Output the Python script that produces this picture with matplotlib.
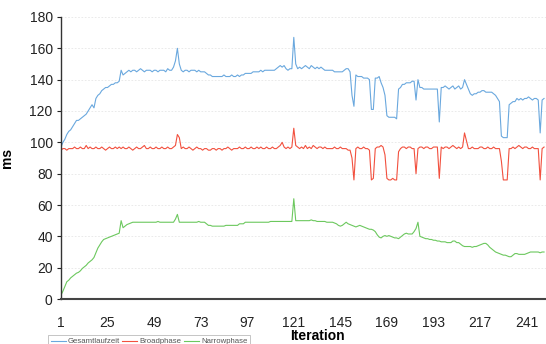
import numpy as np
import matplotlib
matplotlib.use("Agg")
import matplotlib.pyplot as plt

plt.rcParams['font.family'] = ['Liberation Sans', 'DejaVu Sans']

series_names = ["Gesamtlaufzeit", "Broadphase", "Narrowphase"]
series_colors = ["#6aa8de", "#f2503e", "#6cc85e"]

gesamtlaufzeit = [
    97, 100, 102, 105, 107, 108, 110, 112, 114, 114,
    115, 116, 117, 118, 120, 122, 124, 122, 128, 130,
    131, 133, 134, 135, 135, 136, 137, 137, 138, 138,
    139, 146, 143, 144, 145, 146, 145, 146, 146, 145,
    146, 147, 146, 145, 146, 146, 146, 145, 146, 146,
    145, 146, 146, 146, 145, 147, 146, 146, 148, 152,
    160, 150, 146, 145, 146, 146, 145, 146, 146, 146,
    145, 146, 145, 145, 145, 144, 143, 143, 142, 142,
    142, 142, 142, 142, 143, 142, 142, 142, 143, 142,
    142, 143, 142, 143, 143, 144, 144, 144, 144, 145,
    145, 145, 145, 146, 145, 146, 146, 146, 146, 146,
    146, 147, 148, 149, 148, 149, 147, 146, 147, 147,
    167, 150, 147, 148, 147, 148, 149, 148, 147, 149,
    148, 147, 148, 147, 148, 147, 146, 146, 146, 146,
    146, 145, 145, 145, 145, 145, 146, 147, 147, 145,
    130, 123, 143, 142, 142, 142, 141, 141, 141, 140,
    121, 121, 141, 141, 142, 138, 135, 130, 117, 116,
    116, 116, 116, 115, 134, 135, 137, 137, 138, 138,
    138, 139, 139, 127, 140, 135, 135, 134, 134, 134,
    134, 134, 134, 134, 134, 113, 135, 135, 136, 135,
    134, 135, 136, 134, 135, 136, 134, 135, 140, 137,
    134, 131, 130, 131, 131, 132, 132, 133, 133, 132,
    132, 132, 132, 131, 130, 128, 126, 104, 103, 103,
    103, 124, 125, 126, 126, 128, 127, 128, 127, 128,
    128, 129, 128, 127, 128, 128, 127, 106, 127, 128,
]

broadphase = [
    95, 96, 96, 95, 96, 96, 96, 97, 96, 96,
    97, 96, 96, 98, 96, 97, 96, 96, 97, 96,
    96, 97, 96, 95, 96, 97, 96, 96, 97, 96,
    97, 96, 97, 96, 96, 97, 96, 95, 96, 97,
    96, 96, 97, 98, 96, 96, 97, 96, 96, 97,
    96, 96, 97, 96, 96, 97, 96, 96, 97, 98,
    105, 103, 96, 97, 96, 96, 97, 96, 95, 96,
    97, 96, 96, 95, 96, 96, 95, 95, 96, 96,
    95, 96, 96, 95, 96, 96, 97, 96, 95, 96,
    96, 96, 97, 96, 96, 97, 96, 96, 97, 96,
    96, 97, 96, 97, 96, 96, 97, 96, 96, 97,
    96, 96, 97, 98, 100, 97, 96, 97, 96, 97,
    109, 98, 97, 96, 97, 96, 98, 96, 97, 96,
    98, 97, 96, 97, 97, 96, 97, 96, 96, 96,
    96, 97, 96, 96, 97, 96, 96, 96, 95, 95,
    90, 76, 96, 97, 96, 96, 97, 96, 96, 95,
    76, 77, 96, 97, 97, 98, 97, 92, 77, 76,
    76, 77, 76, 76, 94, 96, 97, 97, 96, 97,
    97, 96, 96, 80, 96, 97, 97, 96, 97, 97,
    96, 96, 97, 97, 97, 77, 97, 96, 97, 97,
    96, 97, 98, 97, 96, 97, 96, 97, 106, 101,
    96, 96, 97, 96, 96, 96, 97, 97, 96, 96,
    97, 96, 96, 97, 96, 96, 96, 88, 76, 76,
    76, 96, 96, 97, 96, 97, 98, 97, 96, 97,
    97, 96, 96, 97, 96, 96, 96, 76, 96, 97,
]

narrowphase = [
    2.5, 5, 8, 11, 12, 13.5, 14.5, 15.5, 16.5, 17,
    18, 19.5, 20.5, 21.5, 23, 24, 25, 26.5, 29.5, 32.5,
    34.5, 36.5, 38, 38.5, 39, 39.5, 40, 40.5, 41, 41.5,
    42, 50, 45.5, 46.5, 47.5, 48, 48.5, 49, 49, 49,
    49, 49, 49, 49, 49, 49, 49, 49, 49, 49,
    49.5, 49, 49, 49, 49, 49, 49, 49, 49, 51,
    54, 49, 49, 49, 49, 49, 49, 49, 49, 49,
    49, 49.5, 49, 49, 49, 48, 47, 47, 46.5, 46.5,
    46.5, 46.5, 46.5, 46.5, 46.5, 47, 47, 47, 47, 47,
    47, 47, 48, 48, 48, 49, 49, 49, 49, 49,
    49, 49, 49, 49, 49, 49, 49, 49, 49.5, 49.5,
    49.5, 49.5, 49.5, 49.5, 49.5, 49.5, 49.5, 49.5, 49.5, 49.5,
    64, 50, 50, 50, 50, 50, 50, 50, 50, 50.5,
    50, 50, 49.5, 49.5, 49.5, 49.5, 49.5, 49, 49, 49,
    49, 48.5, 48, 47, 46.5, 47, 48, 49, 48, 47.5,
    47, 46.5, 46, 46.5, 47, 46.5, 46, 45.5, 45, 44.5,
    44.5, 44, 43, 41, 39.5, 39, 40, 40.5, 40, 40.5,
    40, 39.5, 39, 39, 38.5, 39.5, 40.5, 41.5, 42, 41.5,
    41.5, 41.5, 43, 45, 49, 40, 39.5, 39, 38.5, 38.5,
    38, 38, 37.5, 37.5, 37, 37, 36.5, 36.5, 36.5, 36,
    36, 36, 37, 37, 36, 36, 35, 34, 33.5, 33.5,
    33.5, 33.5, 33, 33.5, 33.5, 34, 34.5, 35, 35.5, 35.5,
    34.5, 33, 32, 31, 30, 29.5, 29, 28.5, 28, 28,
    27.5, 27, 27, 28, 29, 29, 28.5, 28.5, 28.5, 28.5,
    29, 29.5, 30, 30, 30, 30, 30, 29.5, 30, 30,
]

x_ticks = [1, 25, 49, 73, 97, 121, 145, 169, 193, 217, 241]
y_ticks = [0, 20, 40, 60, 80, 100, 120, 140, 160, 180]

iterations = np.arange(1, len(gesamtlaufzeit) + 1)

fig = plt.figure(figsize=(5.46, 3.44), dpi=100)
ax = fig.add_axes([0.1117, 0.1308, 0.8883, 0.8198])

for vals, name, col in zip([gesamtlaufzeit, broadphase, narrowphase], series_names, series_colors):
    ax.plot(iterations, vals, color=col, lw=0.8, label=name)

ax.set_xlim(1, 251)
ax.set_ylim(0, 180)
ax.set_xticks(x_ticks)
ax.set_yticks(y_ticks)
ax.yaxis.grid(True, color="#e6e6e6", lw=0.6, ls=(0, (2, 2)))
ax.set_axisbelow(True)

for s in ["top", "right"]:
    ax.spines[s].set_visible(False)
ax.spines["left"].set_color("#333333")
ax.spines["left"].set_linewidth(1.0)
ax.spines["bottom"].set_color("#444444")
ax.spines["bottom"].set_linewidth(1.5)

ax.tick_params(axis="x", length=0, pad=12, labelsize=10, colors="#222222")
ax.tick_params(axis="y", length=3, width=0.8, pad=3, labelsize=10, colors="#222222")

ax.set_xlabel("Iteration", fontsize=10, fontweight="bold")
ax.xaxis.set_label_coords(0.529, -0.106)
ax.set_ylabel("ms", fontsize=10, fontweight="bold")
ax.yaxis.set_label_coords(-0.096, 0.5)

leg = fig.legend(loc="lower left", bbox_to_anchor=(48 / 546, -0.012), ncol=3,
                 fontsize=5.6, handlelength=1.9, handletextpad=0.3,
                 columnspacing=0.3, borderpad=0.35, frameon=True, fancybox=False,
                 borderaxespad=0)
leg.get_frame().set_edgecolor("#aaaaaa")
leg.get_frame().set_linewidth(0.6)
for t in leg.get_texts():
    t.set_color("#555555")

fig.savefig("out.png", dpi=100)
